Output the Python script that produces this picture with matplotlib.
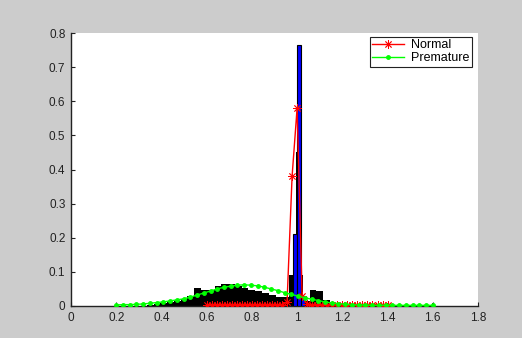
import numpy as np
import matplotlib
matplotlib.use("Agg")
import matplotlib.pyplot as plt

# Histogram of premature RR intervals (black bars)
prem_bin_centers = [0.20, 0.35, 0.38, 0.41, 0.44, 0.47, 0.50, 0.53, 0.56, 0.59,
                    0.62, 0.65, 0.68, 0.71, 0.74, 0.77, 0.80, 0.83, 0.86, 0.89,
                    0.92, 0.95, 0.98, 1.01, 1.04, 1.07, 1.10, 1.13, 1.16, 1.19,
                    1.40, 1.60]
prem_bin_heights = [0.010, 0.003, 0.005, 0.008, 0.011, 0.015, 0.021, 0.030, 0.052, 0.046,
                    0.046, 0.058, 0.064, 0.064, 0.059, 0.052, 0.047, 0.043, 0.037, 0.031,
                    0.027, 0.025, 0.090, 0.090, 0.016, 0.047, 0.043, 0.018, 0.008, 0.004,
                    0.008, 0.008]
prem_bin_widths = [0.004] + [0.03] * 29 + [0.004, 0.004]

# Narrow premature bar hidden behind the normal peak
prem_peak_center = [0.9955]
prem_peak_height = [0.45]

# Histogram of normal RR intervals (blue bars)
norm_bin_centers = [0.990, 1.008, 1.025]
norm_bin_heights = [0.21, 0.765, 0.03]

# Normal curve (red, asterisk markers)
normal_x = np.linspace(0.6, 1.4, 37)
normal_y = [0.004, 0.004, 0.004, 0.004, 0.004, 0.004, 0.004, 0.004, 0.004, 0.004,
            0.004, 0.004, 0.004, 0.004, 0.004, 0.004, 0.012, 0.380, 0.580, 0.030,
            0.006, 0.004, 0.004, 0.004, 0.004, 0.004, 0.004, 0.004, 0.004, 0.004,
            0.004, 0.004, 0.004, 0.004, 0.004, 0.004, 0.004]

# Premature curve (green, dot markers)
premature_x = np.linspace(0.2, 1.6, 48)
premature_y = [0.003, 0.004, 0.004, 0.005, 0.006, 0.008, 0.010, 0.012, 0.015, 0.018,
               0.021, 0.026, 0.032, 0.038, 0.044, 0.050, 0.055, 0.058, 0.061, 0.062,
               0.061, 0.059, 0.055, 0.050, 0.045, 0.039, 0.034, 0.029, 0.024, 0.020,
               0.016, 0.012, 0.009, 0.007, 0.005, 0.004, 0.003, 0.003, 0.002, 0.002,
               0.002, 0.002, 0.002, 0.002, 0.002, 0.002, 0.002, 0.002]

xticks = [0, 0.2, 0.4, 0.6, 0.8, 1.0, 1.2, 1.4, 1.6, 1.8]
xtick_labels = ["0", "0.2", "0.4", "0.6", "0.8", "1", "1.2", "1.4", "1.6", "1.8"]
yticks = [0, 0.1, 0.2, 0.3, 0.4, 0.5, 0.6, 0.7, 0.8]
ytick_labels = ["0", "0.1", "0.2", "0.3", "0.4", "0.5", "0.6", "0.7", "0.8"]

plt.rcParams["font.family"] = ["Liberation Sans", "DejaVu Sans"]

fig = plt.figure(figsize=(5.22, 3.38), dpi=100, facecolor="#cccccc")
ax = fig.add_axes([71 / 522, 1 - 306 / 338, 407 / 522, 273 / 338])
ax.set_facecolor("white")

ax.bar(prem_bin_centers, prem_bin_heights, width=prem_bin_widths,
       color="black", linewidth=0, zorder=2)
ax.bar(prem_peak_center, prem_peak_height, width=0.004,
       color="black", linewidth=0, zorder=2)
ax.bar(norm_bin_centers, norm_bin_heights, width=0.017,
       color="#0000ff", edgecolor="black", linewidth=0.8, zorder=3)

asterisk = (8, 2, 0)
ax.plot(normal_x, normal_y, color="red", linewidth=1, marker=asterisk,
        markersize=6, markeredgewidth=0.6, label="Normal", zorder=4)
ax.plot(premature_x, premature_y, color="#00ff00", linewidth=1, marker=".",
        markersize=5, label="Premature", zorder=5)

ax.set_xlim(0, 1.8)
ax.set_ylim(0, 0.8)
ax.set_xticks(xticks)
ax.set_xticklabels(xtick_labels)
ax.set_yticks(yticks)
ax.set_yticklabels(ytick_labels)

for side in ("top", "right"):
    ax.spines[side].set_visible(False)
for side in ("left", "bottom"):
    ax.spines[side].set_color("#222222")
    ax.spines[side].set_linewidth(1)
ax.tick_params(direction="in", length=3, width=0.8, labelsize=8.5,
               colors="#222222", pad=4)

leg = ax.legend(loc="upper right", bbox_to_anchor=(472 / 522, 1 - 37 / 338),
                bbox_transform=fig.transFigure, fontsize=9, frameon=True,
                fancybox=False, framealpha=1, edgecolor="#222222",
                borderpad=0.2, labelspacing=0.05, handlelength=2.5,
                handletextpad=0.6, borderaxespad=0)
leg.get_frame().set_linewidth(0.8)

fig.savefig("out.png", dpi=100, facecolor=fig.get_facecolor())
